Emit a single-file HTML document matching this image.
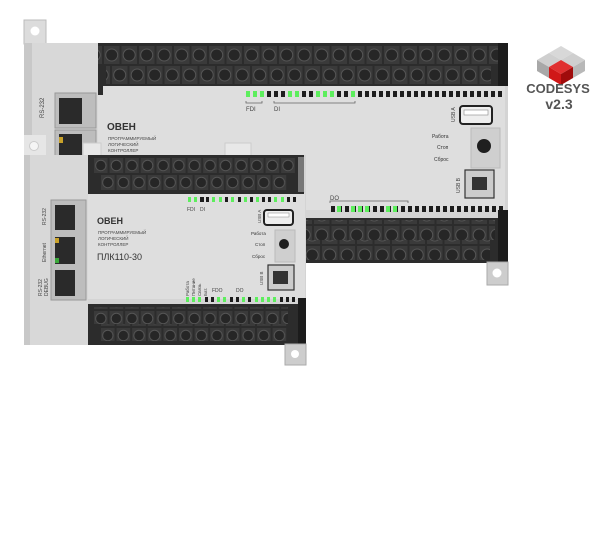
<!DOCTYPE html>
<html><head><meta charset="utf-8"><style>
html,body{margin:0;padding:0;background:#fff;width:600px;height:543px;overflow:hidden}
svg{display:block}
text{font-family:"Liberation Sans","Noto Sans CJK SC",sans-serif}
</style></head><body>
<svg width="600" height="543" viewBox="0 0 600 543" xmlns="http://www.w3.org/2000/svg">
<defs>
<pattern id="scrA" x="103" y="45" width="17.5" height="20" patternUnits="userSpaceOnUse">
<rect x="1" y="1" width="15.5" height="18" fill="#3a3a3a"/><circle cx="8.7" cy="10" r="6" fill="#262626" stroke="#555" stroke-width="1"/></pattern>
<pattern id="scrB" x="111" y="65" width="17.5" height="20" patternUnits="userSpaceOnUse">
<rect x="1" y="1" width="15.5" height="18" fill="#3a3a3a"/><circle cx="8.7" cy="10" r="6" fill="#262626" stroke="#555" stroke-width="1"/></pattern>
<pattern id="scrS1" x="93" y="157" width="15.6" height="17" patternUnits="userSpaceOnUse">
<rect x="1" y="1" width="13.6" height="15" fill="#3a3a3a"/><circle cx="7.8" cy="8.5" r="5.2" fill="#262626" stroke="#555" stroke-width="1"/></pattern>
<pattern id="scrS2" x="100" y="174" width="15.6" height="17" patternUnits="userSpaceOnUse">
<rect x="1" y="1" width="13.6" height="15" fill="#3a3a3a"/><circle cx="7.8" cy="8.5" r="5.2" fill="#262626" stroke="#555" stroke-width="1"/></pattern>
<pattern id="ledB" x="330" y="205" width="7" height="8" patternUnits="userSpaceOnUse"><rect x="1" y="1" width="4" height="6" fill="#1d1d1d"/></pattern>
<pattern id="ledT" x="245" y="90" width="7" height="8" patternUnits="userSpaceOnUse"><rect x="1" y="1" width="4" height="6" fill="#1d1d1d"/></pattern>
</defs>

<!-- BIG MODULE -->
<rect x="24" y="20" width="22" height="24" fill="#dcdcdc" stroke="#bbb"/>
<circle cx="35" cy="31" r="4.5" fill="#fff"/>
<rect x="24" y="43" width="76" height="115" fill="#d8d8d8"/>
<rect x="24" y="43" width="8" height="115" fill="#c8c8c8"/>
<rect x="24" y="135" width="22" height="22" fill="#e6e6e6"/>
<circle cx="34" cy="146" r="4.5" fill="#f5f5f5" stroke="#ccc"/>
<text transform="translate(44,118) rotate(-90)" font-size="6" fill="#444">RS-232</text>
<rect x="55" y="93" width="41" height="35" fill="#bdbdbd" stroke="#999"/>
<rect x="59" y="98" width="23" height="26" fill="#2a2a2a"/>
<rect x="55" y="130" width="41" height="26" fill="#bdbdbd" stroke="#999"/>
<rect x="59" y="134" width="23" height="22" fill="#2a2a2a"/>
<rect x="59" y="137" width="4" height="6" fill="#c9a22a"/>
<!-- big front -->
<rect x="98" y="43" width="410" height="220" fill="#d4d4d4"/>
<rect x="98" y="85" width="407" height="125" fill="#dedede"/>
<rect x="98" y="43" width="410" height="43" fill="#2c2c2c"/>
<rect x="98" y="45" width="400" height="20" fill="url(#scrA)"/>
<rect x="106" y="65" width="385" height="20" fill="url(#scrB)"/>
<rect x="498" y="43" width="10" height="43" fill="#1c1c1c"/>
<rect x="98" y="85" width="5" height="10" fill="#2c2c2c"/>
<rect x="245" y="90" width="260" height="8" fill="url(#ledT)"/>
<g fill="#5dee5d">
<rect x="246" y="91" width="4" height="6"/><rect x="253" y="91" width="4" height="6"/><rect x="260" y="91" width="4" height="6"/>
<rect x="288" y="91" width="4" height="6"/><rect x="295" y="91" width="4" height="6"/><rect x="316" y="91" width="4" height="6"/><rect x="323" y="91" width="4" height="6"/><rect x="330" y="91" width="4" height="6"/><rect x="351" y="91" width="4" height="6"/>
</g>
<path d="M246 101v2h16v-2M274 101v2h81v-2" stroke="#666" fill="none" stroke-width="0.8"/>
<text x="246" y="111" font-size="6" fill="#444">FDI</text>
<text x="274" y="111" font-size="6" fill="#444">DI</text>
<text x="107" y="130" font-size="10" font-weight="bold" fill="#333">ОВЕН</text>
<text x="108" y="140" font-size="4.5" fill="#444">ПРОГРАММИРУЕМЫЙ</text>
<text x="108" y="146" font-size="4.5" fill="#444">ЛОГИЧЕСКИЙ</text>
<text x="108" y="152" font-size="4.5" fill="#444">КОНТРОЛЛЕР</text>
<rect x="460" y="106" width="32" height="18" rx="3" fill="#eee" stroke="#222" stroke-width="2"/>
<rect x="464" y="110" width="24" height="5" fill="#fff" stroke="#888" stroke-width="0.6"/>
<text transform="translate(455,122) rotate(-90)" font-size="5" fill="#444">USB A</text>
<rect x="471" y="128" width="29" height="40" fill="#cfcfcf" stroke="#bbb"/>
<circle cx="484" cy="146" r="7" fill="#1f1f1f"/>
<text x="432" y="138" font-size="5" fill="#333">Работа</text>
<text x="437" y="149" font-size="5" fill="#333">Стоп</text>
<text x="434" y="161" font-size="5" fill="#333">Сброс</text>
<rect x="465" y="170" width="29" height="28" fill="#ccc" stroke="#333" stroke-width="1.2"/>
<rect x="472" y="177" width="15" height="13" fill="#333"/>
<text transform="translate(460,193) rotate(-90)" font-size="5" fill="#444">USB B</text>
<rect x="328" y="205" width="175" height="8" fill="url(#ledB)"/>
<g fill="#5dee5d"><rect x="337" y="206" width="4" height="6"/><rect x="351" y="206" width="4" height="6"/><rect x="358" y="206" width="4" height="6"/><rect x="365" y="206" width="4" height="6"/><rect x="386" y="206" width="4" height="6"/><rect x="393" y="206" width="4" height="6"/></g>
<path d="M330 203v-2h78v2" stroke="#666" fill="none" stroke-width="0.8"/>
<text x="330" y="200" font-size="6" fill="#444">DO</text>
<!-- big bottom terminal -->
<rect x="300" y="218" width="208" height="45" fill="#2c2c2c"/>
<rect x="300" y="220" width="195" height="20" fill="url(#scrA)"/>
<rect x="300" y="240" width="190" height="20" fill="url(#scrB)"/>
<rect x="498" y="210" width="10" height="53" fill="#1c1c1c"/>
<rect x="487" y="262" width="21" height="23" fill="#cdcdcd" stroke="#aaa"/>
<circle cx="497" cy="273" r="4.5" fill="#fff"/>

<!-- SMALL MODULE -->
<rect x="83" y="143" width="18" height="14" fill="#e8e8e8" stroke="#ccc"/>
<rect x="225" y="143" width="26" height="14" fill="#e8e8e8" stroke="#ccc"/>
<rect x="24" y="155" width="66" height="190" fill="#d8d8d8"/>
<rect x="24" y="155" width="6" height="190" fill="#c8c8c8"/>
<rect x="51" y="200" width="35" height="100" fill="#bdbdbd" stroke="#999"/>
<rect x="55" y="205" width="20" height="25" fill="#2a2a2a"/>
<rect x="55" y="237" width="20" height="27" fill="#2a2a2a"/>
<rect x="55" y="238" width="4" height="5" fill="#c9a22a"/>
<rect x="55" y="258" width="4" height="5" fill="#3aa83a"/>
<rect x="55" y="270" width="20" height="26" fill="#2a2a2a"/>
<text transform="translate(46,225) rotate(-90)" font-size="5" fill="#444">RS-232</text>
<text transform="translate(46,262) rotate(-90)" font-size="5" fill="#444">Ethernet</text>
<text transform="translate(42,296) rotate(-90)" font-size="5" fill="#444">RS-232</text>
<text transform="translate(48,296) rotate(-90)" font-size="5" fill="#444">DEBUG</text>
<rect x="88" y="155" width="218" height="190" fill="#d4d4d4"/>
<rect x="88" y="193" width="217" height="106" fill="#dedede"/>
<rect x="88" y="155" width="216" height="39" fill="#2c2c2c"/>
<rect x="93" y="157" width="203" height="17" fill="url(#scrS1)"/>
<rect x="100" y="174" width="187" height="17" fill="url(#scrS2)"/>
<rect x="298" y="157" width="6" height="35" fill="#777"/>
<rect x="187" y="197" width="107" height="6" fill="#222" opacity="0"/>
<g fill="#1d1d1d"><rect x="200" y="197" width="4" height="5"/><rect x="206" y="197" width="3" height="5"/><rect x="225" y="197" width="3" height="5"/><rect x="238" y="197" width="3" height="5"/><rect x="250" y="197" width="3" height="5"/><rect x="262" y="197" width="3" height="5"/><rect x="268" y="197" width="3" height="5"/><rect x="287" y="197" width="3" height="5"/><rect x="293" y="197" width="3" height="5"/></g>
<g fill="#5dee5d"><rect x="188" y="197" width="3" height="5"/><rect x="194" y="197" width="3" height="5"/><rect x="212" y="197" width="3" height="5"/><rect x="219" y="197" width="3" height="5"/><rect x="231" y="197" width="3" height="5"/><rect x="244" y="197" width="3" height="5"/><rect x="256" y="197" width="3" height="5"/><rect x="274" y="197" width="3" height="5"/><rect x="281" y="197" width="3" height="5"/></g>
<text x="187" y="211" font-size="5" fill="#444">FDI</text>
<text x="200" y="211" font-size="5" fill="#444">DI</text>
<text x="97" y="224" font-size="9" font-weight="bold" fill="#333">ОВЕН</text>
<text x="98" y="234" font-size="4.5" fill="#444">ПРОГРАММИРУЕМЫЙ</text>
<text x="98" y="240" font-size="4.5" fill="#444">ЛОГИЧЕСКИЙ</text>
<text x="98" y="246" font-size="4.5" fill="#444">КОНТРОЛЛЕР</text>
<text x="97" y="260" font-size="9" fill="#333">ПЛК110-30</text>
<rect x="264" y="210" width="29" height="15" rx="3" fill="#eee" stroke="#222" stroke-width="2"/>
<rect x="268" y="213" width="21" height="4" fill="#fff" stroke="#888" stroke-width="0.5"/>
<text transform="translate(261,223) rotate(-90)" font-size="4.5" fill="#444">USB A</text>
<rect x="275" y="230" width="20" height="32" fill="#cfcfcf" stroke="#bbb"/>
<circle cx="284" cy="244" r="5" fill="#1f1f1f"/>
<text x="251" y="235" font-size="4.5" fill="#333">Работа</text>
<text x="255" y="246" font-size="4.5" fill="#333">Стоп</text>
<text x="252" y="258" font-size="4.5" fill="#333">Сброс</text>
<rect x="268" y="265" width="26" height="25" fill="#ccc" stroke="#333" stroke-width="1.2"/>
<rect x="273" y="271" width="15" height="13" fill="#333"/>
<text transform="translate(263,285) rotate(-90)" font-size="4.5" fill="#444">USB B</text>
<text transform="translate(189,296) rotate(-90)" font-size="4.5" fill="#444">Работа</text>
<text transform="translate(195,296) rotate(-90)" font-size="4.5" fill="#444">Питание</text>
<text transform="translate(201,296) rotate(-90)" font-size="4.5" fill="#444">Связь</text>
<text transform="translate(207,296) rotate(-90)" font-size="4.5" fill="#444">Бат.</text>
<text x="212" y="292" font-size="5" fill="#444">FDO</text>
<text x="236" y="292" font-size="5" fill="#444">DO</text>
<g fill="#5dee5d"><rect x="186" y="297" width="3" height="5"/><rect x="192" y="297" width="3" height="5"/><rect x="198" y="297" width="3" height="5"/><rect x="217" y="297" width="3" height="5"/><rect x="223" y="297" width="3" height="5"/><rect x="242" y="297" width="3" height="5"/><rect x="255" y="297" width="3" height="5"/><rect x="261" y="297" width="3" height="5"/><rect x="267" y="297" width="3" height="5"/><rect x="273" y="297" width="3" height="5"/></g>
<g fill="#1d1d1d"><rect x="205" y="297" width="3" height="5"/><rect x="211" y="297" width="3" height="5"/><rect x="230" y="297" width="3" height="5"/><rect x="236" y="297" width="3" height="5"/><rect x="248" y="297" width="3" height="5"/><rect x="280" y="297" width="3" height="5"/><rect x="286" y="297" width="3" height="5"/><rect x="292" y="297" width="3" height="5"/></g>
<rect x="88" y="304" width="218" height="41" fill="#2c2c2c"/>
<rect x="93" y="307" width="195" height="17" fill="url(#scrS1)"/>
<rect x="100" y="324" width="187" height="17" fill="url(#scrS2)"/>
<rect x="298" y="298" width="8" height="47" fill="#1c1c1c"/>
<rect x="285" y="344" width="21" height="21" fill="#cdcdcd" stroke="#aaa"/>
<circle cx="295" cy="354" r="4" fill="#fff"/>

<!-- CODESYS logo -->
<polygon points="549,53 561,46 573,53 561,60" fill="#d8d8d8"/>
<polygon points="537,60 549,53 561,60 549,67" fill="#cfcfcf"/>
<polygon points="561,60 573,53 585,60 573,67" fill="#cfcfcf"/>
<polygon points="537,60 549,67 549,78 537,71" fill="#a8a8a8"/>
<polygon points="585,60 573,67 573,78 585,71" fill="#b8b8b8"/>
<polygon points="549,67 561,60 573,67 561,74" fill="#e03030"/>
<polygon points="549,67 561,74 561,85 549,78" fill="#d01818"/>
<polygon points="573,67 561,74 561,85 573,78" fill="#a00c0c"/>
<text x="558" y="93" font-size="13" font-weight="bold" fill="#555" text-anchor="middle">CODESYS</text>
<text x="559" y="109" font-size="14" font-weight="bold" fill="#555" text-anchor="middle">v2.3</text>
</svg>
</body></html>
